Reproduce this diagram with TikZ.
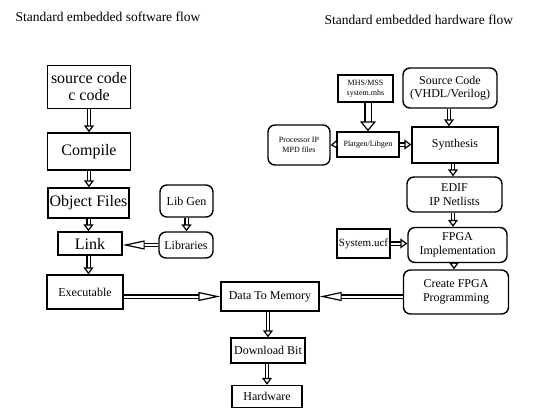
\documentclass[tikz,border=0pt]{standalone}
\usepackage{fontspec}
\setmainfont{Liberation Serif}
\usetikzlibrary{arrows.meta,calc}
\begin{document}
\begin{tikzpicture}[x=1pt,y=-1pt,
  box/.style={draw, line width=1.4pt, inner sep=0pt, align=center, rectangle},
  rbox/.style={box, rounded corners=7pt},
  big/.style={font=\fontsize{16}{17}\selectfont},
  mid/.style={font=\fontsize{12}{13.5}\selectfont},
  sml/.style={font=\fontsize{8}{9.5}\selectfont},
  harrow/.style={double, double distance=2pt, line width=1.2pt, -{Triangle[open, length=7pt, width=10pt, line width=1.2pt]}},
  larrow/.style={double, double distance=2pt, line width=1.2pt, -{Triangle[open, length=22pt, width=9pt, line width=1.2pt]}}
]
\useasboundingbox (0,0) rectangle (542,408);
\node[font=\fontsize{13.5}{15}\selectfont, anchor=west] (t1) at (12,17) {Standard embedded software flow};
\node[font=\fontsize{13.5}{15}\selectfont, anchor=west] (t2) at (321,20) {Standard embedded hardware flow};

% software flow
\node[box, big, minimum width=83, minimum height=43] (src) at (89,87) {source code\\c code};
\node[box, big, minimum width=83, minimum height=37] (comp) at (89,151.5) {Compile};
\node[box, big, minimum width=81, minimum height=30] (obj) at (88.5,203) {Object Files};
\node[box, big, minimum width=64, minimum height=23] (link) at (90,243.5) {Link};
\node[rbox, mid, minimum width=53, minimum height=32] (libgen) at (186.5,201) {Lib Gen};
\node[rbox, mid, minimum width=54, minimum height=26] (libs) at (186,245) {Libraries};
\node[box, mid, minimum width=76, minimum height=34] (exe) at (85,292) {Executable};
\node[box, mid, minimum width=98, minimum height=29] (dtm) at (270,296.5) {Data To Memory};
\node[box, mid, minimum width=74, minimum height=25] (dl) at (268,350.5) {Download Bit};
\node[box, mid, minimum width=70, minimum height=22] (hw) at (267,396.5) {Hardware};

% hardware flow
\node[rbox, mid, minimum width=94, minimum height=40] (vsrc) at (450,88) {Source Code\\(VHDL/Verilog)};
\node[box, mid, minimum width=86, minimum height=36] (syn) at (455,145) {Synthesis};
\node[rbox, mid, minimum width=95, minimum height=35] (edif) at (454.5,194.5) {EDIF\\IP Netlists};
\node[rbox, mid, minimum width=99, minimum height=35] (impl) at (457.5,245) {FPGA\\Implementation};
\node[rbox, mid, minimum width=105, minimum height=44] (create) at (456,292) {Create FPGA\\Programming};
\node[box, font=\fontsize{11}{12}\selectfont, minimum width=53, minimum height=29] (ucf) at (363.5,243.5) {System.ucf};
\node[box, sml, minimum width=55, minimum height=27] (mhs) at (365.5,88.5) {MHS/MSS\\system.mhs};
\node[box, sml, minimum width=62, minimum height=25] (plat) at (368,144.5) {Platgen/Libgen};
\node[rbox, sml, minimum width=62, minimum height=40] (proc) at (299,145) {Processor IP\\MPD files};

% connectors
\draw[harrow] (src.south) -- (src.south |- comp.north);
\draw[harrow] (comp.south) -- (comp.south |- obj.north);
\draw[harrow] (obj.south) -- (obj.south |- link.north);
\draw[harrow] (link.south -| obj.south) -- (obj.south |- exe.north);
\draw[harrow] (libgen.south) -- (libgen.south |- libs.north);
\draw[larrow] (libs.west) -- (libs.west -| link.east);
\draw[larrow] (exe.east |- dtm.west) -- (dtm.west);
\draw[larrow] (create.west |- dtm.east) -- (dtm.east);
\draw[harrow] (dtm.south -| dl.north) -- (dl.north);
\draw[harrow] (dl.south -| hw.north) -- (hw.north);

\draw[harrow] (vsrc.south -| 449,0) -- (449,0 |- syn.north);
\draw[harrow] (syn.south -| 453,0) -- (453,0 |- edif.north);
\draw[harrow] (edif.south -| 453,0) -- (453,0 |- impl.north);
\draw[harrow] (impl.south -| 454,0) -- (454,0 |- create.north);
\draw[double, double distance=5pt, line width=1.2pt, -{Triangle[open, length=10pt, width=16pt, line width=1.2pt]}] (mhs.south -| plat.north) -- (plat.north);
\draw[harrow] (plat.west) -- (proc.east);
\draw[harrow] (plat.east) -- (plat.east -| syn.west);
\draw[harrow] (ucf.east) -- (ucf.east -| impl.west);
\end{tikzpicture}
\end{document}
